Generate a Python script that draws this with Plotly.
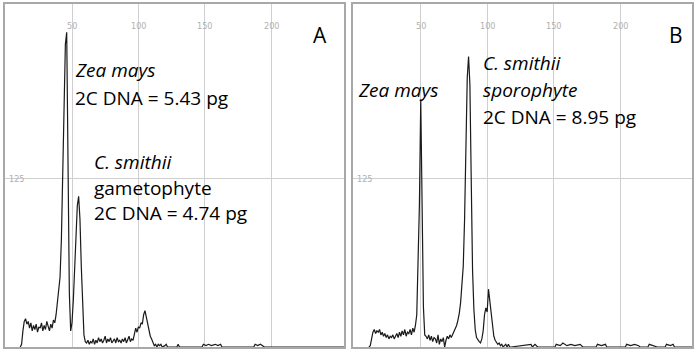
import plotly.graph_objects as go

# ---- Data (channel, relative count) ----
a_channel = [11, 12, 13, 14, 15, 16, 17, 18, 19, 20, 21, 22, 23, 24, 25, 26, 27, 28, 29, 30,
             31, 32, 33, 34, 35, 36, 37, 38, 39, 40, 41, 42, 43, 44, 45, 46, 47, 48, 49, 50,
             51, 52, 53, 54, 55, 56, 57, 58, 59, 60, 61, 62, 63, 64, 65, 66, 67, 68, 69, 70,
             71, 72, 73, 74, 75, 76, 77, 78, 79, 80, 81, 82, 83, 84, 85, 86, 87, 88, 89, 90,
             91, 92, 93, 94, 95, 96, 97, 98, 99, 100, 101, 102, 103, 104, 105, 106, 107, 108,
             109, 110, 111, 112, 113, 114, 115, 116, 117, 118, 120, 121, 122, 129, 130, 131,
             148, 149, 151, 153, 155, 158, 160, 162, 163, 187, 188, 190, 192, 194, 195, 255]
a_count = [0, 2, 12, 19, 21, 17, 19, 14, 18, 12, 16, 13, 17, 11, 15, 14, 18, 12, 16, 13,
           19, 15, 12, 17, 14, 20, 18, 24, 33, 42, 52, 80, 130, 185, 225, 234, 150, 40, 12, 18,
           35, 62, 88, 105, 112, 95, 60, 25, 9, 4, 3, 5, 2, 4, 3, 6, 2, 5, 3, 7,
           4, 6, 3, 5, 8, 3, 6, 4, 7, 3, 5, 6, 3, 7, 4, 5, 3, 6, 4, 7,
           3, 5, 8, 4, 6, 5, 9, 14, 11, 15, 14, 18, 17, 24, 27, 22, 17, 14,
           8, 6, 3, 1, 2, 0, 2, 1, 2, 0, 1, 2, 0, 0, 2, 0,
           0, 2, 1, 2, 1, 2, 1, 2, 0, 0, 2, 1, 2, 1, 0, 0]

b_channel = [11, 12, 13, 14, 15, 16, 17, 18, 19, 20, 21, 22, 23, 24, 25, 26, 27, 28, 29, 30,
             31, 32, 33, 34, 35, 36, 37, 38, 39, 40, 41, 42, 43, 44, 45, 46, 47, 48, 49, 50,
             51, 52, 53, 54, 55, 56, 57, 58, 59, 60, 61, 62, 63, 64, 65, 66, 67, 68, 69, 70,
             71, 72, 73, 74, 75, 76, 77, 78, 79, 80, 81, 82, 83, 84, 85, 86, 87, 88, 89, 90,
             91, 92, 93, 94, 95, 96, 97, 98, 99, 100, 101, 102, 103, 104, 105, 106, 107, 108,
             109, 110, 111, 112, 113, 114, 115, 116, 117, 118, 133, 134, 136, 138, 140, 141,
             151, 152, 155, 157, 160, 163, 166, 170, 172, 182, 183, 186, 189, 190,
             204, 205, 208, 211, 214, 215, 221, 222, 225, 228, 234, 235, 238, 240, 241, 255]
b_count = [0, 1, 6, 11, 13, 10, 12, 11, 13, 9, 11, 8, 10, 7, 9, 6, 8, 7, 9, 6,
           8, 10, 7, 11, 8, 12, 9, 13, 8, 11, 10, 13, 9, 14, 11, 16, 24, 57, 106, 184,
           120, 30, 9, 8, 6, 9, 5, 8, 4, 7, 6, 3, 9, 2, 6, 4, 7, 0, 5, 8,
           6, 9, 7, 9, 11, 13, 16, 20, 25, 33, 45, 60, 95, 150, 200, 216, 195, 125, 57, 28,
           13, 7, 5, 4, 3, 6, 12, 24, 29, 26, 43, 35, 28, 16, 8, 5, 3, 2,
           3, 1, 2, 0, 1, 2, 0, 2, 0, 0, 2, 0, 2, 0, 0, 0,
           0, 2, 1, 3, 1, 2, 1, 2, 0, 0, 2, 1, 2, 0,
           0, 2, 1, 2, 1, 0, 0, 2, 1, 0, 0, 2, 1, 2, 0, 0]

x_gridlines = [50, 100, 150, 200]
x_tick_labels = ["50", "100", "150", "200"]
y_gridlines = [125]
y_tick_labels = ["125"]

# Annotation texts
a_labels = [("<i>Zea mays</i>", 50.5, 206), ("2C DNA = 5.43 pg", 50.5, 185),
            ("<i>C. smithii</i>", 65, 137.5), ("gametophyte", 65, 118),
            ("2C DNA = 4.74 pg", 65, 99.6)]
b_labels = [("<i>Zea mays</i>", 1.0, 191), ("<i>C. smithii</i>", 95.3, 211),
            ("<i>sporophyte</i>", 95.3, 191), ("2C DNA = 8.95 pg", 95.3, 171)]

FONT = "Open Sans"
fig = go.Figure()
fig.add_trace(go.Scatter(x=a_channel, y=a_count, mode="lines", xaxis="x", yaxis="y",
                         line=dict(color="#1a1a1a", width=1.2), showlegend=False))
fig.add_trace(go.Scatter(x=b_channel, y=b_count, mode="lines", xaxis="x2", yaxis="y2",
                         line=dict(color="#1a1a1a", width=1.2), showlegend=False))

ydom = [(354 - 347) / 354, (354 - 4) / 354]
axcommon = dict(showgrid=True, gridcolor="#cfcfcf", gridwidth=1, zeroline=False,
                showticklabels=False, ticks="", showline=True, linecolor="#a8a8a8",
                linewidth=1.5, mirror=True, fixedrange=True)
fig.update_layout(
    width=697, height=354, margin=dict(l=0, r=0, t=0, b=0),
    paper_bgcolor="white", plot_bgcolor="white",
    xaxis=dict(domain=[5 / 697, 344 / 697], range=[-0.5, 255], tickvals=x_gridlines,
               anchor="y", **axcommon),
    yaxis=dict(domain=ydom, range=[0, 255], tickvals=y_gridlines, anchor="x", **axcommon),
    xaxis2=dict(domain=[353 / 697, 692 / 697], range=[-1, 254.2], tickvals=x_gridlines,
                anchor="y2", **axcommon),
    yaxis2=dict(domain=ydom, range=[0, 255], tickvals=y_gridlines, anchor="x2", **axcommon),
)

ann = []
tickfont = dict(family="Liberation Sans Narrow, DejaVu Sans Condensed", size=9, color="#b0b0b0")
for xr, yr in (("x", "y"), ("x2", "y2")):
    for v, t in zip(x_gridlines, x_tick_labels):
        ann.append(dict(x=v, y=239, xref=xr, yref=yr, text=t, showarrow=False, font=tickfont))
    for v, t in zip(y_gridlines, y_tick_labels):
        ann.append(dict(x=8, y=v, xref=xr, yref=yr, text=t, showarrow=False, font=tickfont))
for t, x, y in a_labels:
    ann.append(dict(x=x, y=y, xref="x", yref="y", text=t, showarrow=False, xanchor="left",
                    yanchor="middle", font=dict(family=FONT, size=19, color="black")))
for t, x, y in b_labels:
    ann.append(dict(x=x, y=y, xref="x2", yref="y2", text=t, showarrow=False, xanchor="left",
                    yanchor="middle", font=dict(family=FONT, size=19, color="black")))
ann.append(dict(x=237, y=232, xref="x", yref="y", text="A", showarrow=False,
                font=dict(family=FONT, size=21, color="black")))
ann.append(dict(x=242, y=232, xref="x2", yref="y2", text="B", showarrow=False,
                font=dict(family=FONT, size=21, color="black")))
fig.update_layout(annotations=ann)

fig.write_html("out.html")
